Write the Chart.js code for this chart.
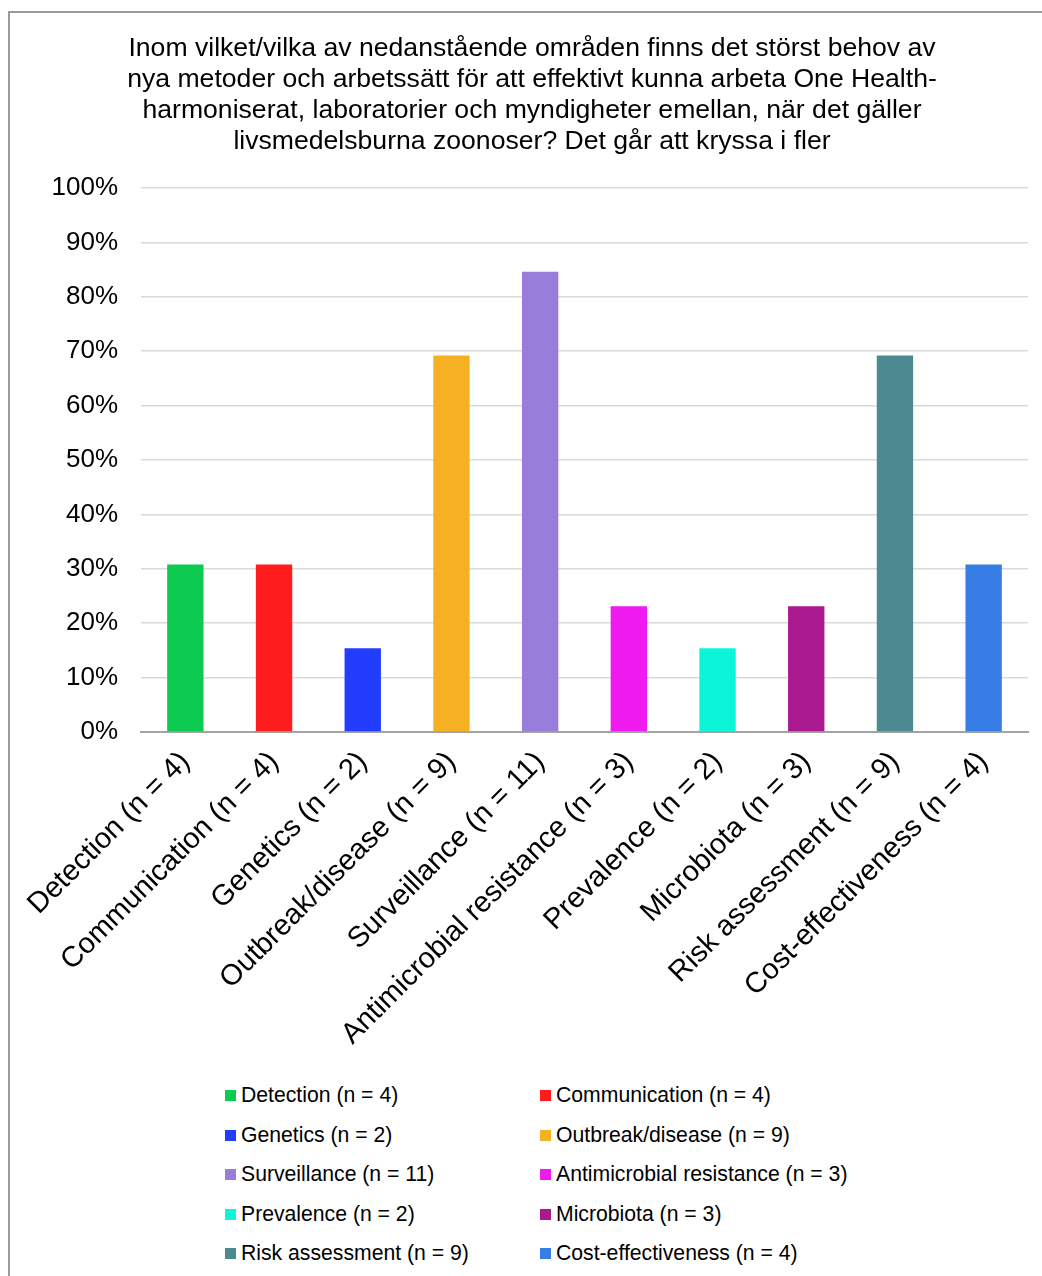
<!DOCTYPE html>
<html>
<head>
<meta charset="utf-8">
<script src="https://cdn.jsdelivr.net/npm/chart.js@4.4.1/dist/chart.umd.min.js"></script>
<style>
    html, body { margin: 0; padding: 0; background: #fff; overflow: hidden; }
    body { width: 1042px; height: 1276px; position: relative; font-family: "Liberation Sans", Arial, sans-serif; }
    #ram { position: absolute; left: 8px; top: 11px; width: 1100px; height: 1320px; border: 2px solid #9a9a9a; }
    #diagram { position: absolute; left: 0; top: 0; }
    #forklaring { position: absolute; left: 0; top: 0; }
    .rad { position: absolute; font-size: 21.2px; color: #000; white-space: nowrap; line-height: 24px; }
    .ruta { position: absolute; width: 11px; height: 11px; top: 7px; left: 0; }
    .text { position: absolute; left: 16px; top: 0; }
</style>
</head>
<body>
<div id="ram">
    <canvas id="diagram" width="1050" height="1050" style="width:1050px;height:1050px"></canvas>
</div>
<div id="forklaring"></div>
<script>
const omraden = ["Detection", "Communication", "Genetics", "Outbreak/disease", "Surveillance",
    "Antimicrobial resistance", "Prevalence", "Microbiota", "Risk assessment", "Cost-effectiveness"];
const antal = [4, 4, 2, 9, 11, 3, 2, 3, 9, 4];
const andel = [30.8, 30.8, 15.4, 69.2, 84.6, 23.1, 15.4, 23.1, 69.2, 30.8];
const farger = ["#0ccb50", "#ff1c1c", "#233dff", "#f5b122", "#987ddb",
    "#ee1af0", "#0cf5d8", "#aa1a8e", "#4a8a90", "#377de6"];
const yTicks = [0, 10, 20, 30, 40, 50, 60, 70, 80, 90, 100];
const rubrik = [
    "Inom vilket/vilka av nedanstående områden finns det störst behov av",
    "nya metoder och arbetssätt för att effektivt kunna arbeta One Health-",
    "harmoniserat, laboratorier och myndigheter emellan, när det gäller",
    "livsmedelsburna zoonoser? Det går att kryssa i fler"
];

const etiketter = omraden.map((namn, i) => namn + " (n = " + antal[i] + ")");
const typsnitt = "'Liberation Sans', Arial, sans-serif";

const diagram = new Chart(document.getElementById("diagram"), {
    type: "bar",
    data: {
        labels: etiketter,
        datasets: [
            {
                data: andel,
                backgroundColor: farger,
                borderWidth: 0,
                categoryPercentage: 1,
                barPercentage: 0.41,
            },
        ],
    },
    options: {
        responsive: false,
        animation: false,
        layout: { padding: { left: 26, right: 32, top: 0, bottom: 0 } },
        plugins: {
            legend: { display: false },
            tooltip: { enabled: false },
            title: {
                display: true,
                text: rubrik,
                color: "#000",
                font: { family: typsnitt, size: 26.6, weight: "normal", lineHeight: 31 / 26.6 },
                padding: { top: 20, bottom: 31 },
            },
        },
        scales: {
            y: {
                min: 0,
                max: 100,
                afterFit: (skala) => { skala.width = 105; },
                afterBuildTicks: (skala) => { skala.ticks = yTicks.map(v => ({ value: v })); },
                border: { display: false },
                grid: { color: "#d9d9d9", lineWidth: 1.5, drawTicks: false },
                ticks: {
                    color: "#000",
                    padding: 23,
                    font: { family: typsnitt, size: 26 },
                    callback: (v) => v + "%",
                },
            },
            x: {
                afterFit: (skala) => { skala.height = 331; },
                border: { display: true, color: "#a3a3a3", width: 2 },
                grid: { display: false, drawTicks: false },
                ticks: {
                    color: "#000",
                    padding: 13,
                    minRotation: 45,
                    maxRotation: 45,
                    autoSkip: false,
                    font: { family: typsnitt, size: 29 },
                },
            },
        },
    },
});

// förklaringen i två kolumner under diagrammet
const forklaring = document.getElementById("forklaring");
const kolumnX = [225, 540];
const radY = [1083, 1123, 1162, 1202, 1241];
omraden.forEach((namn, i) => {
    const rad = document.createElement("div");
    rad.className = "rad";
    rad.style.left = kolumnX[i % 2] + "px";
    rad.style.top = radY[Math.floor(i / 2)] + "px";
    const ruta = document.createElement("div");
    ruta.className = "ruta";
    ruta.style.background = farger[i];
    const text = document.createElement("span");
    text.className = "text";
    text.textContent = etiketter[i];
    rad.appendChild(ruta);
    rad.appendChild(text);
    forklaring.appendChild(rad);
});
</script>
</body>
</html>
